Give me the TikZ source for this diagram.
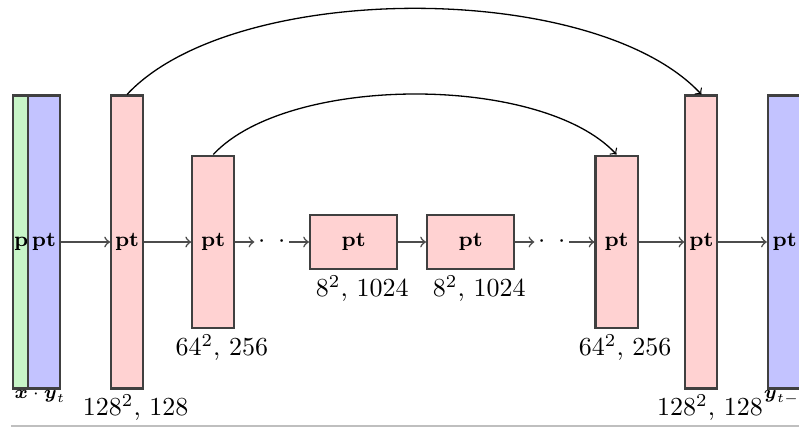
\documentclass[tikz,border=0pt]{standalone}
\usepackage{amsmath,amssymb}
\usetikzlibrary{positioning}

\definecolor{encpink}{RGB}{255,210,210}
\definecolor{iolav}{RGB}{195,195,255}
\definecolor{condmint}{RGB}{200,245,200}

\begin{document}
\begin{tikzpicture}
 \tikzstyle{blk} = [draw=black!75, line width=0.8pt, inner sep=0pt, font=\footnotesize\bfseries];
 \tikzstyle{tall} = [blk, minimum width=12.3pt, minimum height=112.7pt];
 \tikzstyle{mid} = [blk, minimum width=16.2pt, minimum height=66.5pt];
 \tikzstyle{low} = [blk, minimum width=33.6pt, minimum height=21.1pt];
 \tikzstyle{skip} = [inner sep=0pt, minimum width=13pt];
 \tikzstyle{size} = [inner sep=0pt, xshift=3.3pt];
 \tikzstyle{io} = [inner sep=0pt, anchor=base, font=\scriptsize];

 \path [use as bounding box, clip] (-16.92pt,-71.54pt) rectangle (290.38pt,93.08pt);

 \node (cond) [tall, fill=condmint, minimum width=10pt] at (-6.9pt,0) {pt};
 \node (inL) [tall, fill=iolav] at (0,0) {pt};
 \node (enc1) [tall, fill=encpink, right=18.85pt of inL] {pt};
 \node (enc2) [mid, fill=encpink, right=18.1pt of enc1] {pt};
 \node (skipL) [skip, right=7.3pt of enc2] {$\cdot$\hspace{4.9pt}$\cdot$};
 \node (mid1) [low, fill=encpink, right=7.6pt of skipL] {pt};
 \node (mid2) [low, fill=encpink, right=10.6pt of mid1] {pt};
 \node (skipR) [skip, right=7.3pt of mid2] {$\cdot$\hspace{4.9pt}$\cdot$};
 \node (dec2) [mid, fill=encpink, right=9.7pt of skipR] {pt};
 \node (dec1) [tall, fill=encpink, right=17.6pt of dec2] {pt};
 \node (outR) [tall, fill=iolav, minimum width=13pt, right=18.6pt of dec1] {pt};

 \node (enc1size) [size, below=1.8pt of enc1] {$128^2$, 128};
 \node (enc2size) [size, below=1.8pt of enc2] {$64^2$, 256};
 \node (mid1size) [size, below=1.8pt of mid1] {$8^2$, 1024};
 \node (mid2size) [size, below=1.8pt of mid2] {$8^2$, 1024};
 \node (dec2size) [size, below=1.8pt of dec2] {$64^2$, 256};
 \node (dec1size) [size, below=1.8pt of dec1] {$128^2$, 128};

 \node (inlab) [io, xshift=-1.5pt, yshift=-3.3pt] at (inL.south) {$\boldsymbol{x}\cdot\boldsymbol{y}_t$};
 \node (outlab) [io, xshift=0.5pt, yshift=-3.3pt] at (outR.south) {$\boldsymbol{y}_{t-1}$};

 \tikzstyle{C} = [color=black!70, line width=0.6pt]
 \tikzstyle{S} = [color=black, line width=0.5pt]

 \draw [->, C] (inL) -- (enc1);
 \draw [->, C] (enc1) -- (enc2);
 \draw [->, C] (enc2) -- (skipL);
 \draw [->, C] (skipL) -- (mid1);
 \draw [->, C] (mid1) -- (mid2);
 \draw [->, C] (mid2) -- (skipR);
 \draw [->, C] (skipR) -- (dec2);
 \draw [->, C] (dec2) -- (dec1);
 \draw [->, C] (dec1) -- (outR);

 \draw [->, S] (enc1.north) to [out=47, in=133, looseness=0.7] (dec1.north);
 \draw [->, S] (enc2.north) to [out=47, in=133, looseness=0.7] (dec2.north);

 \draw [black!25, line width=0.6pt] (-12.7pt,-70.8pt) -- (290.4pt,-70.8pt);

\end{tikzpicture}
\end{document}
